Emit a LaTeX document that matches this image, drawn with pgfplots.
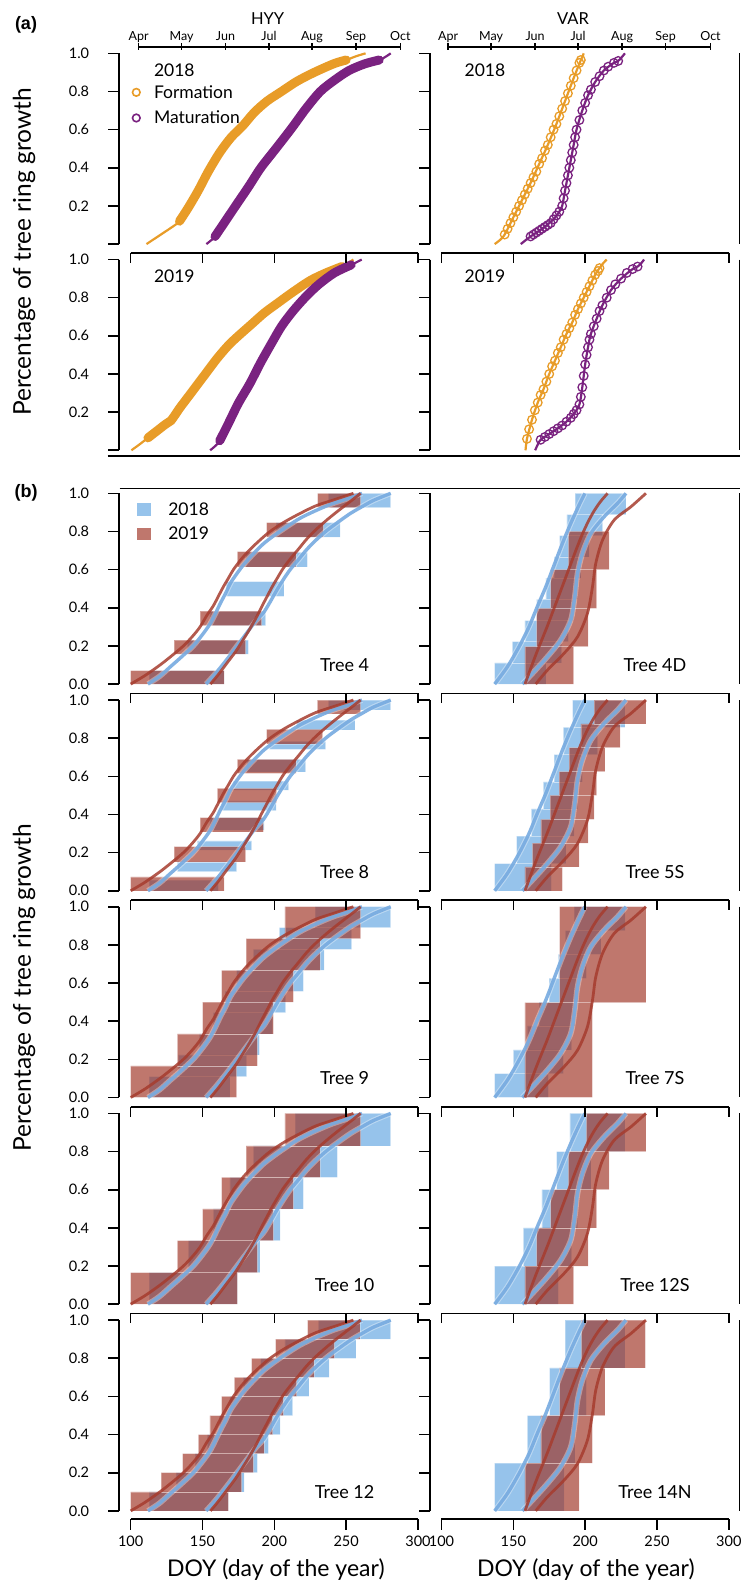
\documentclass[border=0pt]{standalone}
\usepackage{fontspec}
\setmainfont{Lato}
\newfontfamily\arialb{Liberation Sans}
\usepackage{pgfplots}
\pgfplotsset{compat=1.18}
\usepackage{pgfplotstable}

\definecolor{orng}{RGB}{232,156,40}
\definecolor{purp}{RGB}{122,34,128}
\definecolor{bfill}{RGB}{80,155,222}
\definecolor{rfill}{RGB}{158,47,31}
\definecolor{bline}{RGB}{118,170,224}
\definecolor{rline}{RGB}{166,60,46}

\newcommand{\fs}[1]{\fontsize{#1}{#1}\selectfont}

\pgfplotsset{
 pan/.style={scale only axis, width=310.3pt, height=206pt, xmin=92, xmax=308, ymin=-0.04, ymax=1.04, hide axis, clip=false, anchor=south west},
 bh/.style={no marks, smooth, line width=5.6pt, color=white, opacity=0.35, forget plot},
 bc/.style={no marks, smooth, line width=3.4pt, color=bline, opacity=0.9, forget plot},
 rc/.style={no marks, smooth, line width=2.8pt, color=rline, opacity=0.85, forget plot},
 thinl/.style={no marks, smooth, line width=2.2pt, forget plot},
 bandl/.style={no marks, smooth, line width=9pt, line cap=round, forget plot},
 circ/.style={only marks, mark=o, mark size=4.3pt, mark options={line width=1.3pt}, forget plot},
}
\newcommand{\rb}[4]{\addplot[draw=white, draw opacity=0.3, line width=0.5pt, fill=bfill, fill opacity=0.6, forget plot] coordinates {(#1,#3) (#2,#3) (#2,#4) (#1,#4) (#1,#3)};}
\newcommand{\rr}[4]{\addplot[draw=white, draw opacity=0.3, line width=0.5pt, fill=rfill, fill opacity=0.65, forget plot] coordinates {(#1,#3) (#2,#3) (#2,#4) (#1,#4) (#1,#3)};}

% HYY fitted curves
\pgfplotstableread{
x y
100 0
110 0.045
120.4 0.1
128 0.145
136.7 0.2
143 0.25
148.3 0.3
153 0.36
157.5 0.41
161 0.46
164.5 0.51
168 0.555
171.5 0.6
177 0.655
183 0.705
190 0.755
197 0.8
207 0.85
218 0.895
229 0.935
241 0.965
255 1.0
}\hRL
\pgfplotstableread{
x y
112 0
120 0.04
127.5 0.09
135 0.14
143.5 0.2
150 0.26
155.2 0.315
159 0.37
162.5 0.425
166 0.475
169.5 0.53
174 0.58
179 0.63
185 0.68
192.3 0.735
200 0.78
208.6 0.825
218 0.87
229 0.91
240 0.945
250 0.97
261 1.0
}\hBL
\pgfplotstableread{
x y
155.5 0
161 0.05
167 0.11
173 0.17
178.5 0.235
183 0.29
187.5 0.35
191.5 0.41
195 0.46
198.5 0.51
202 0.555
206 0.605
211 0.655
216.5 0.705
222.5 0.76
229 0.81
236.5 0.86
243 0.9
249 0.935
255 0.97
260 1.0
}\hRR
\pgfplotstableread{
x y
152.5 0
159 0.055
166.5 0.125
173.5 0.195
180.5 0.265
187 0.33
192.5 0.375
197 0.43
201.5 0.49
206 0.545
211 0.6
216.5 0.65
222.5 0.705
229 0.755
236.5 0.805
244.5 0.85
253 0.895
261 0.93
269 0.963
281 1.0
}\hBR
% VAR fitted curves
\pgfplotstableread{
x y
137 0
145.8 0.09
154 0.196
160.9 0.3
166.7 0.406
172.6 0.51
178.4 0.624
184.2 0.738
190 0.843
195.8 0.939
199.8 1.0
}\vBL
\pgfplotstableread{
x y
158.1 0
162 0.08
166 0.16
170 0.235
174 0.31
178 0.39
182 0.47
186 0.55
190 0.63
194 0.71
198 0.785
202 0.85
206 0.905
210.5 0.955
215.6 1.0
}\vRL
\pgfplotstableread{
x y
156.3 0
164.4 0.065
173.7 0.143
183 0.231
190 0.336
192.8 0.458
194.7 0.58
198.1 0.685
204 0.79
213.3 0.878
222.6 0.948
228.4 1.0
}\vBR
\pgfplotstableread{
x y
165.6 0
173.7 0.073
185.3 0.161
194.7 0.248
201.6 0.371
205.1 0.51
207.4 0.633
212.1 0.755
220.2 0.86
231.9 0.93
242.3 1.0
}\vRR

\newcommand{\hyyc}{\addplot[bh] table {\hBL}; \addplot[bh] table {\hBR}; \addplot[bc] table {\hBL}; \addplot[bc] table {\hBR}; \addplot[rc] table {\hRL}; \addplot[rc] table {\hRR};}
\newcommand{\varc}{\addplot[bh] table {\vBL}; \addplot[bh] table {\vBR}; \addplot[bc] table {\vBL}; \addplot[bc] table {\vBR}; \addplot[rc] table {\vRL}; \addplot[rc] table {\vRR};}

\tikzset{axl/.style={line width=1.6pt}, tl/.style={font=\fs{14.5}, inner sep=0pt, anchor=center},
 tree/.style={font=\fs{18}, inner sep=0pt, anchor=center}}
\newcommand{\yax}[2]{%
 \draw[axl] (#1,-#2) -- (#1,{-(#2+190.74)});
 \foreach \t in {0,0.2,0.4,0.6,0.8,1} {\draw[axl] (#1,{-(#2+(1-\t)*190.74)}) -- ++(-11.5,0);}}
\newcommand{\ylab}[1]{\foreach \t/\l in {0/0.0,0.2/0.2,0.4/0.4,0.6/0.6,0.8/0.8,1/1.0} {\node[tl] at (79,{-(#1+(1-\t)*190.74)}) {\l};}}
\newcommand{\ylaba}[1]{\foreach \t/\l in {0.2/0.2,0.4/0.4,0.6/0.6,0.8/0.8,1/1.0} {\node[tl] at (79,{-(#1+(1-\t)*190.74)}) {\l};}}
\newcommand{\rgt}[1]{\draw[axl] (739.6,-#1) -- (739.6,{-(#1+190.74)});}
\newcommand{\topax}[2]{%
 \draw[axl] (#1,-#2) -- ({#1+287.32},-#2);
 \foreach \k in {0,1,2,3,4} {\draw[axl] ({#1+\k*71.83},-#2) -- ++(0,-10);}}

\begin{document}
\begin{tikzpicture}[x=1pt,y=1pt]
\fill[white] (0,0) rectangle (749,-1585);
\useasboundingbox (0,0) rectangle (749,-1585);

% ===================== (a) =====================
\begin{axis}[pan, at={(119.2pt,-251.7pt)},
 legend image code/.code={\draw[#1] (0pt,0pt) circle (3.8pt);},
 legend cell align=left,
 legend style={at={(axis cs:100.7,0.833)}, anchor=north west, draw=none, fill=none, inner sep=0pt, outer sep=0pt,
   row sep=11.3pt, column sep=13.1pt, font=\fs{17.5}, nodes={inner sep=0pt}}]
\addlegendimage{orng, line width=1.6pt}
\addlegendentry{Formation}
\addlegendimage{purp, line width=1.6pt}
\addlegendentry{Maturation}
\addplot[thinl, orng] coordinates {(111,0) (117,0.03) (123,0.06) (128,0.085) (134,0.12) (140,0.19) (147,0.28) (154,0.38) (162,0.48) (170,0.56) (178,0.62) (186,0.69) (195,0.75) (205,0.80) (215,0.85) (225,0.89) (235,0.925) (243,0.95) (250,0.965) (257,0.985) (263.5,1)};
\addplot[bandl, orng] coordinates {(134,0.12) (140,0.19) (147,0.28) (154,0.38) (162,0.48) (170,0.56) (178,0.62) (186,0.69) (195,0.75) (205,0.80) (215,0.85) (225,0.89) (235,0.925) (243,0.95) (250,0.965)};
\addplot[thinl, purp] coordinates {(152.7,0) (156,0.02) (158.7,0.04) (165,0.11) (173,0.2) (182,0.3) (190.6,0.4) (201,0.5) (212,0.607) (222,0.71) (232,0.8) (242,0.86) (252,0.91) (263,0.945) (273,0.965) (277,0.98) (281,1)};
\addplot[bandl, purp] coordinates {(158.7,0.04) (165,0.11) (173,0.2) (182,0.3) (190.6,0.4) (201,0.5) (212,0.607) (222,0.71) (232,0.8) (242,0.86) (252,0.91) (263,0.945) (273,0.965)};
\end{axis}

\begin{axis}[pan, at={(430pt,-251.7pt)}]
\addplot[thinl, orng] coordinates {(137,0) (140.5,0.02) (144,0.05) (150,0.14) (156,0.23) (162,0.32) (168,0.42) (174,0.52) (180,0.63) (186,0.75) (192,0.87) (197,0.965) (198,0.98) (199,1)};
\addplot[circ, orng] coordinates {(144,0.05) (146,0.08) (148,0.11) (150,0.14) (152,0.17) (154,0.20) (156,0.23) (158,0.26) (160,0.29) (162,0.32) (164,0.35) (166,0.38) (168,0.42) (170,0.45) (172,0.49) (174,0.52) (176,0.56) (178,0.60) (180,0.63) (182,0.67) (184,0.71) (186,0.75) (188,0.79) (190,0.83) (192,0.87) (194,0.91) (196,0.95) (197,0.965)};
\addplot[thinl, purp] coordinates {(155.2,0) (158.5,0.02) (162,0.04) (170,0.08) (178,0.13) (182,0.17) (184,0.20) (186,0.28) (188,0.36) (190,0.44) (192,0.52) (194,0.60) (198,0.70) (202,0.78) (207,0.85) (213,0.91) (220,0.95) (223,0.96) (225.5,0.98) (227.7,1)};
\addplot[circ, purp] coordinates {(162,0.04) (164,0.05) (166,0.06) (168,0.07) (170,0.08) (172,0.09) (174,0.10) (176,0.11) (178,0.13) (180,0.15) (182,0.17) (184,0.20) (185,0.24) (186,0.28) (187,0.32) (188,0.36) (189,0.40) (190,0.44) (191,0.48) (192,0.52) (193,0.56) (194,0.60) (196,0.65) (198,0.70) (200,0.74) (202,0.78) (204,0.81) (207,0.85) (210,0.88) (213,0.91) (216,0.93) (220,0.95) (223,0.96)};
\end{axis}

\begin{axis}[pan, at={(119.2pt,-457.9pt)}]
\addplot[thinl, orng] coordinates {(100.5,0) (106,0.03) (112,0.065) (118,0.10) (124,0.135) (128,0.155) (134,0.22) (140,0.28) (146,0.34) (152,0.40) (160,0.48) (168,0.55) (175,0.60) (184,0.66) (193,0.72) (202,0.77) (213,0.83) (225,0.89) (236,0.93) (247,0.963) (251,0.98) (255,1)};
\addplot[bandl, orng] coordinates {(112,0.065) (118,0.10) (124,0.135) (128,0.155) (134,0.22) (140,0.28) (146,0.34) (152,0.40) (160,0.48) (168,0.55) (175,0.60) (184,0.66) (193,0.72) (202,0.77) (213,0.83) (225,0.89) (236,0.93) (247,0.963)};
\addplot[thinl, purp] coordinates {(155.3,0) (158.5,0.02) (162,0.05) (168,0.14) (175,0.247) (183,0.35) (190.3,0.457) (198,0.56) (205,0.65) (213,0.73) (222,0.806) (231,0.87) (241.8,0.93) (253.5,0.972) (257,0.985) (260.8,1)};
\addplot[bandl, purp] coordinates {(162,0.05) (168,0.14) (175,0.247) (183,0.35) (190.3,0.457) (198,0.56) (205,0.65) (213,0.73) (222,0.806) (231,0.87) (241.8,0.93) (253.5,0.972)};
\end{axis}

\begin{axis}[pan, at={(430pt,-457.9pt)}]
\addplot[thinl, orng] coordinates {(158.5,0) (159.5,0.06) (163,0.16) (167,0.25) (171,0.32) (175,0.40) (179,0.47) (183,0.54) (187,0.61) (191,0.67) (195,0.74) (199,0.80) (203,0.86) (207,0.92) (210,0.955) (212.5,0.98) (215,1)};
\addplot[circ, orng] coordinates {(159.5,0.06) (161,0.11) (163,0.16) (165,0.21) (167,0.25) (169,0.29) (171,0.32) (173,0.36) (175,0.40) (177,0.44) (179,0.47) (181,0.51) (183,0.54) (185,0.58) (187,0.61) (189,0.64) (191,0.67) (193,0.71) (195,0.74) (197,0.77) (199,0.80) (201,0.83) (203,0.86) (205,0.89) (207,0.92) (209,0.94) (210,0.955)};
\addplot[thinl, purp] coordinates {(165.2,0) (167,0.03) (169,0.055) (175,0.085) (181,0.115) (187,0.15) (192,0.19) (196,0.24) (198,0.33) (200,0.45) (202,0.54) (204,0.61) (208,0.69) (212,0.76) (218,0.84) (225,0.90) (233,0.95) (236.5,0.963) (239,0.98) (241,1)};
\addplot[circ, purp] coordinates {(169,0.055) (172,0.07) (175,0.085) (178,0.10) (181,0.115) (184,0.13) (187,0.15) (190,0.17) (192,0.19) (194,0.21) (196,0.24) (197,0.28) (198,0.33) (199,0.39) (200,0.45) (201,0.50) (202,0.54) (203,0.58) (204,0.61) (206,0.65) (208,0.69) (210,0.73) (212,0.76) (215,0.80) (218,0.84) (221,0.87) (225,0.90) (229,0.93) (233,0.95) (236.5,0.963)};
\end{axis}

% ===================== (b) =====================
% Tree 4
\begin{axis}[pan, at={(119.2pt,-691.7pt)},
 legend image code/.code={\fill[#1, draw=none] (-7pt,-6.15pt) rectangle (7pt,6.15pt);},
 legend cell align=left,
 legend style={at={(axis cs:104.2,0.952)}, anchor=north west, draw=none, fill=none, inner sep=0pt, outer sep=0pt,
   row sep=10.3pt, column sep=17.6pt, font=\fs{17.5}, nodes={inner sep=0pt}}]
\addlegendimage{draw=none, fill=bfill, fill opacity=0.6}
\addlegendentry{2018}
\addlegendimage{draw=none, fill=rfill, fill opacity=0.65}
\addlegendentry{2019}
\rb{112.8}{165}{0}{0.07} \rb{139.4}{181.9}{0.157}{0.23} \rb{155.2}{194}{0.306}{0.383} \rb{166.4}{206.7}{0.46}{0.537} \rb{180.3}{223}{0.615}{0.69} \rb{201.2}{245.7}{0.77}{0.846} \rb{237.6}{281}{0.925}{1}
\rr{100}{165}{0}{0.07} \rr{130.2}{180}{0.157}{0.23} \rr{148.3}{191.2}{0.306}{0.383} \rr{174.2}{215.1}{0.615}{0.694} \rr{194.7}{234.1}{0.77}{0.846} \rr{230.2}{260.1}{0.925}{1}
\hyyc
\end{axis}
% Tree 4D
\begin{axis}[pan, at={(430pt,-691.7pt)}]
\rb{137}{172.6}{0}{0.111} \rb{149.3}{183.7}{0.111}{0.222} \rb{158.1}{188.4}{0.222}{0.333} \rb{166.3}{191.9}{0.333}{0.444} \rb{172.6}{194.7}{0.444}{0.556} \rb{178.4}{197}{0.556}{0.667} \rb{182.3}{202.8}{0.667}{0.778} \rb{187.2}{212.1}{0.778}{0.889} \rb{193}{228.4}{0.889}{1}
\rr{158.1}{191.9}{0}{0.196} \rr{166.3}{202.1}{0.196}{0.397} \rr{176}{207.9}{0.397}{0.6} \rr{188.4}{216.7}{0.6}{0.8}
\varc
\end{axis}
% Tree 8
\begin{axis}[pan, at={(119.2pt,-898.4pt)}]
\rb{112.8}{161}{0}{0.056} \rb{132.5}{173.8}{0.1}{0.152} \rb{146.4}{184.2}{0.213}{0.262} \rb{155.2}{192.8}{0.318}{0.383} \rb{163.3}{201.2}{0.42}{0.472} \rb{171.5}{210}{0.528}{0.575} \rb{180.7}{221.8}{0.624}{0.689} \rb{196.5}{235.7}{0.741}{0.783} \rb{215.5}{256.1}{0.843}{0.895} \rb{237.6}{281}{0.948}{1}
\rr{100}{165}{0}{0.073} \rr{130.2}{180}{0.152}{0.231} \rr{148.3}{192.3}{0.309}{0.383} \rr{160.3}{201.6}{0.462}{0.537} \rr{174.2}{215.1}{0.615}{0.689} \rr{194.7}{233.6}{0.77}{0.846} \rr{229.9}{260.1}{0.927}{1}
\hyyc
\end{axis}
% Tree 5S
\begin{axis}[pan, at={(430pt,-898.4pt)}]
\rb{137}{176.5}{0}{0.143} \rb{152.3}{186.5}{0.143}{0.286} \rb{162.6}{192.3}{0.286}{0.429} \rb{170.9}{194.7}{0.429}{0.571} \rb{178.4}{198.1}{0.571}{0.714} \rb{184.9}{208.6}{0.714}{0.857} \rb{191.2}{227.7}{0.857}{1}
\rr{158.1}{184.2}{0}{0.125} \rr{163.3}{195.8}{0.125}{0.25} \rr{169.1}{202.1}{0.25}{0.375} \rr{175.6}{206.3}{0.375}{0.5} \rr{181.9}{207.9}{0.5}{0.625} \rr{188.8}{213.7}{0.625}{0.75} \rr{197}{224.4}{0.75}{0.875} \rr{206.3}{242.3}{0.875}{1}
\varc
\end{axis}
% Tree 9
\begin{axis}[pan, at={(119.2pt,-1105.1pt)}]
\rb{112.8}{169.1}{0}{0.11} \rb{133.2}{180.7}{0.11}{0.223} \rb{147.8}{189.6}{0.223}{0.333} \rb{157.5}{198.8}{0.333}{0.445} \rb{165.7}{207.9}{0.445}{0.556} \rb{173.8}{220.2}{0.556}{0.668} \rb{185.4}{234.6}{0.668}{0.777} \rb{203.5}{253.8}{0.777}{0.89} \rb{228.3}{281}{0.89}{1}
\rr{100}{173.8}{0}{0.166} \rr{132.5}{188.2}{0.166}{0.333} \rr{150.1}{199.3}{0.333}{0.5} \rr{163.3}{213.2}{0.5}{0.667} \rr{180.3}{231.8}{0.667}{0.833} \rr{207.4}{260.1}{0.833}{1}
\hyyc
\end{axis}
% Tree 7S
\begin{axis}[pan, at={(430pt,-1105.1pt)}]
\rb{137}{174.4}{0}{0.125} \rb{150}{184.9}{0.125}{0.25} \rb{159.8}{190.5}{0.25}{0.375} \rb{167.9}{192.8}{0.375}{0.5} \rb{174.9}{194.7}{0.5}{0.625} \rb{181.4}{200.9}{0.625}{0.75} \rb{186.3}{210.9}{0.75}{0.875} \rb{192.3}{227.9}{0.875}{1}
\rr{158.1}{205.1}{0}{0.497} \rr{182.3}{242.3}{0.497}{1}
\varc
\end{axis}
% Tree 10
\begin{axis}[pan, at={(119.2pt,-1311.8pt)}]
\rb{112.8}{174.2}{0}{0.166} \rb{140.1}{190}{0.166}{0.333} \rb{157.5}{204}{0.333}{0.5} \rb{169.1}{220.2}{0.5}{0.665} \rb{185.4}{243.9}{0.665}{0.83} \rb{214.4}{281}{0.83}{1}
\rr{100}{174.2}{0}{0.166} \rr{132.5}{188.2}{0.166}{0.333} \rr{150.1}{199.3}{0.333}{0.5} \rr{163.3}{213.2}{0.5}{0.665} \rr{180.3}{231.8}{0.665}{0.83} \rr{207.4}{260.1}{0.83}{1}
\hyyc
\end{axis}
% Tree 12S
\begin{axis}[pan, at={(430pt,-1311.8pt)}]
\rb{137}{181.4}{0}{0.2} \rb{157}{190.5}{0.2}{0.4} \rb{169.8}{194.7}{0.4}{0.6} \rb{180.2}{204}{0.6}{0.8} \rb{189.3}{227.7}{0.8}{1}
\rr{158.1}{191.9}{0}{0.2} \rr{166.3}{202.1}{0.2}{0.4} \rr{176}{207.9}{0.4}{0.6} \rr{188.4}{216.7}{0.6}{0.8} \rr{200.9}{242.3}{0.8}{1}
\varc
\end{axis}
% Tree 12
\begin{axis}[pan, at={(119.2pt,-1518.5pt)}]
\rb{112.8}{168}{0}{0.1} \rb{131.6}{178.9}{0.1}{0.2} \rb{144.8}{188.2}{0.2}{0.3} \rb{153.4}{195.8}{0.3}{0.4} \rb{161.7}{204}{0.4}{0.5} \rb{169.1}{212.8}{0.5}{0.6} \rb{178.4}{224.1}{0.6}{0.7} \rb{190.5}{238.1}{0.7}{0.8} \rb{207.4}{256.8}{0.8}{0.9} \rb{230.6}{281}{0.9}{1}
\rr{100}{168}{0}{0.1} \rr{121.1}{177.3}{0.1}{0.2} \rr{136.2}{185.4}{0.2}{0.3} \rr{147.1}{192.8}{0.3}{0.4} \rr{155.2}{198.8}{0.4}{0.5} \rr{163.3}{206.3}{0.5}{0.6} \rr{172.2}{215.5}{0.6}{0.7} \rr{184.2}{227.6}{0.7}{0.8} \rr{200.9}{241.8}{0.8}{0.9} \rr{223.2}{259.6}{0.9}{1}
\hyyc
\end{axis}
% Tree 14N
\begin{axis}[pan, at={(430pt,-1518.5pt)}]
\rb{137}{185.3}{0}{0.25} \rb{159.8}{192.8}{0.25}{0.5} \rb{175.3}{200.9}{0.5}{0.75} \rb{186}{227.7}{0.75}{1}
\rr{158.1}{195.8}{0}{0.25} \rr{169.1}{205.1}{0.25}{0.5} \rr{182.3}{213.7}{0.5}{0.75} \rr{197.4}{241.9}{0.75}{1}
\varc
\end{axis}

% ===================== decorations =====================
% panel (a)
\foreach \Y in {53.3,259.5} {\yax{119.2}{\Y} \yax{430}{\Y} \rgt{\Y} \ylaba{\Y}}
\topax{130.69}{252.7} \topax{441.49}{252.7}
\draw[axl] (107.7,-456) -- (739.6,-456);
% month axis
\draw[axl] (138.6,-46.7) -- (400.4,-46.7);
\draw[axl] (448.2,-46.7) -- (710.5,-46.7);
\foreach \x/\m in {138.6/Apr,181.6/May,225.5/Jun,269/Jul,312/Aug,356/Sep,400.4/Oct} {\draw[axl] (\x,-43) -- (\x,-50); \node[font=\fs{12.5}, inner sep=0pt, anchor=base] at (\x,-40) {\m};}
\foreach \x/\m in {448.2/Apr,491.2/May,535.1/Jun,578.1/Jul,622.1/Aug,665.6/Sep,710.5/Oct} {\draw[axl] (\x,-43) -- (\x,-50); \node[font=\fs{12.5}, inner sep=0pt, anchor=base] at (\x,-40) {\m};}
\node[font=\fs{16.5}] at (267.6,-18.3) {HYY};
\node[font=\fs{16.5}] at (573,-18.3) {VAR};
\node[font=\fs{17.5}, anchor=west, inner sep=0pt] at (153.8,-70.7) {2018};
\node[font=\fs{17.5}, anchor=west, inner sep=0pt] at (464.4,-70.7) {2018};
\node[font=\fs{17.5}, anchor=west, inner sep=0pt] at (153.8,-276) {2019};
\node[font=\fs{17.5}, anchor=west, inner sep=0pt] at (464.4,-276) {2019};
\node[font=\arialb\bfseries\fs{18}] at (26,-25) {(a)};
\node[font=\fs{24.5}, rotate=90] at (24,-252) {Percentage of tree ring growth};

% panel (b)
\draw[axl] (119.5,-488.3) -- (739.6,-488.3);
\foreach \Y in {493.3,700,906.7,1113.4,1320.1} {\yax{119.2}{\Y} \yax{430}{\Y} \rgt{\Y} \ylab{\Y}}
\foreach \Y in {693.3,900,1106.7,1313.4} {\topax{130.69}{\Y} \topax{441.49}{\Y}}
\draw[axl] (130.69,-1519) -- (418.01,-1519);
\draw[axl] (441.49,-1519) -- (728.81,-1519);
\foreach \k/\l in {0/100,1/150,2/200,3/250,4/300} {
 \draw[axl] ({130.69+\k*71.83},-1519) -- ++(0,-11);
 \draw[axl] ({441.49+\k*71.83},-1519) -- ++(0,-11);
 \node[tl] at ({130.69+\k*71.83},-1541) {\l};
 \node[tl] at ({441.49+\k*71.83},-1541) {\l};}
\node[font=\fs{23}] at (275.8,-1570) {DOY (day of the year)};
\node[font=\fs{23}] at (585.8,-1570) {DOY (day of the year)};
\node[font=\arialb\bfseries\fs{18}] at (26,-493) {(b)};
\node[font=\fs{24.5}, rotate=90] at (24,-988) {Percentage of tree ring growth};
\foreach \Y/\n in {493.3/Tree 4,700/Tree 8,906.7/Tree 9,1113.4/Tree 10,1320.1/Tree 12} {\node[tree] at (344.6,{-(\Y+171.7)}) {\n};}
\foreach \Y/\n in {493.3/Tree 4D,700/Tree 5S,906.7/Tree 7S,1113.4/Tree 12S,1320.1/Tree 14N} {\node[tree] at (655,{-(\Y+171.7)}) {\n};}
\end{tikzpicture}
\end{document}
